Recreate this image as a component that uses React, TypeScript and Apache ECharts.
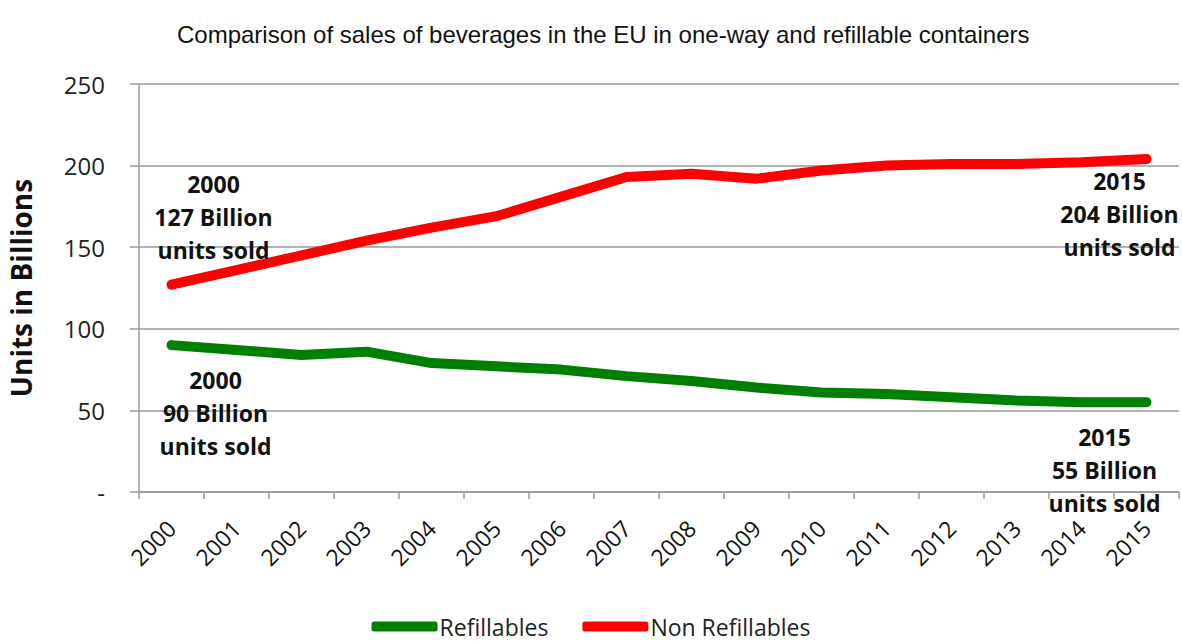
import React, { useEffect, useRef } from "react";
import * as echarts from "echarts";

const years = ["2000","2001","2002","2003","2004","2005","2006","2007","2008","2009","2010","2011","2012","2013","2014","2015"];
const refillables = [90, 87, 84, 86, 79, 77, 75, 71, 68, 64, 61, 60, 58, 56, 55, 55];
const nonRefillables = [127, 136, 145, 154, 162, 169, 181, 193, 195, 192, 197, 200, 201, 201, 202, 204];
const yTicks = [0, 50, 100, 150, 200, 250];
const titleText = "Comparison of sales of beverages in the EU in one-way and refillable containers";
const seriesNames = ["Refillables", "Non Refillables"];

const FONT = "'Open Sans', Lato, sans-serif";

function withEndLabels(values: number[], first: { text: string; offset: number[] }, last: { text: string; offset: number[] }) {
  return values.map((v, i) => {
    if (i === 0 || i === values.length - 1) {
      const cfg = i === 0 ? first : last;
      return {
        value: v,
        label: {
          show: true,
          position: "inside",
          formatter: cfg.text,
          offset: cfg.offset,
          align: "center",
          verticalAlign: "middle",
          fontFamily: FONT,
          fontWeight: "bold",
          fontSize: 23,
          lineHeight: 33,
          color: "#111",
        },
      };
    }
    return v;
  });
}

export default function App() {
  const ref = useRef<HTMLDivElement>(null);
  useEffect(() => {
    if (!ref.current) return;
    const chart = echarts.init(ref.current, undefined, { renderer: "svg" });
    chart.setOption({
      animation: false,
      backgroundColor: "#fff",
      title: {
        text: titleText,
        left: 172,
        top: 17,
        textStyle: { fontFamily: "'Liberation Sans Narrow', 'Liberation Sans', sans-serif", fontWeight: "normal", fontSize: 24, color: "#111" },
      },
      grid: { left: 139, right: 3, top: 84, bottom: 152, outerBoundsMode: "none", containLabel: false },
      legend: {
        top: 610,
        left: "center",
        itemWidth: 66,
        itemHeight: 10,
        itemGap: 34,
        icon: "roundRect",
        textStyle: { fontFamily: FONT, fontSize: 23, color: "#222", padding: [0, 0, 0, -3] },
        data: seriesNames,
      },
      xAxis: {
        type: "category",
        data: years,
        boundaryGap: true,
        axisLine: { lineStyle: { color: "#9a9a9a", width: 1.5 } },
        axisTick: { show: true, length: 7, lineStyle: { color: "#9a9a9a", width: 1.5 } },
        axisLabel: { rotate: 45, fontFamily: FONT, fontSize: 23, color: "#111", margin: 32, interval: 0 },
      },
      yAxis: {
        type: "value",
        min: 0,
        max: 250,
        interval: 50,
        name: "Units in Billions",
        nameLocation: "middle",
        nameGap: 104,
        nameRotate: 90,
        nameTextStyle: { fontFamily: FONT, fontWeight: "bold", fontSize: 28, color: "#111" },
        axisLine: { show: true, lineStyle: { color: "#9a9a9a", width: 1.5 } },
        axisTick: { show: true, inside: false, length: 9, lineStyle: { color: "#9a9a9a", width: 1.5 } },
        splitLine: { show: true, lineStyle: { color: "#9a9a9a", width: 1.5 } },
        axisLabel: {
          fontFamily: FONT,
          fontSize: 24,
          color: "#222",
          margin: 34,
          formatter: (v: number) => (v === yTicks[0] ? "-" : String(v)),
        },
      },
      series: [
        {
          name: seriesNames[0],
          type: "line",
          color: "#008000",
          symbol: "circle",
          symbolSize: 1,
          showSymbol: true,
          lineStyle: { width: 10, color: "#008000", cap: "round", join: "round" },
          itemStyle: { color: "#008000" },
          data: withEndLabels(
            refillables,
            { text: `${years[0]}\n${refillables[0]} Billion\nunits sold`, offset: [44, 68] },
            { text: `${years[15]}\n${refillables[15]} Billion\nunits sold`, offset: [-42, 68] }
          ),
        },
        {
          name: seriesNames[1],
          type: "line",
          color: "#ff0000",
          symbol: "circle",
          symbolSize: 1,
          showSymbol: true,
          lineStyle: { width: 10, color: "#ff0000", cap: "round", join: "round" },
          itemStyle: { color: "#ff0000" },
          data: withEndLabels(
            nonRefillables,
            { text: `${years[0]}\n${nonRefillables[0]} Billion\nunits sold`, offset: [42, -68] },
            { text: `${years[15]}\n${nonRefillables[15]} Billion\nunits sold`, offset: [-27, 55] }
          ),
        },
      ],
    });
    return () => chart.dispose();
  }, []);
  return <div ref={ref} style={{ position: "fixed", left: 0, top: 0, width: 1182, height: 644 }} />;
}
